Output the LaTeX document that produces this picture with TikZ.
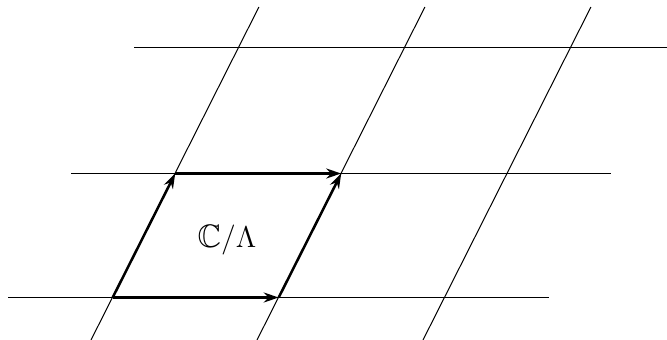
\documentclass[tikz,border=0pt]{standalone}
\usepackage{amssymb}
\usetikzlibrary{arrows.meta}
\begin{document}
\begin{tikzpicture}[x=0.4pt,y=-0.4pt,
  gridline/.style={line width=0.4pt},
  edge/.style={line width=1pt,-{Stealth[length=6pt,width=4pt,inset=2pt]}}]
\useasboundingbox (0,0) rectangle (667,340);
% lattice points
\coordinate (A) at (112.7,297.5);
\coordinate (B) at (278.7,297.5);
\coordinate (C) at (175.2,173.5);
\coordinate (D) at (341.2,173.5);
% horizontal line ends
\coordinate (h1a) at (8,297.5);   \coordinate (h1b) at (549,297.5);
\coordinate (h2a) at (71,173.5);  \coordinate (h2b) at (611,173.5);
\coordinate (h3a) at (134,47.5);  \coordinate (h3b) at (667,47.5);
% slanted line ends
\coordinate (s1a) at (91,340);  \coordinate (s1b) at (258.9,7);
\coordinate (s2a) at (257,340); \coordinate (s2b) at (424.9,7);
\coordinate (s3a) at (423,340); \coordinate (s3b) at (590.9,7);
\draw[gridline] (h1a) -- (h1b);
\draw[gridline] (h2a) -- (h2b);
\draw[gridline] (h3a) -- (h3b);
\draw[gridline] (s1a) -- (s1b);
\draw[gridline] (s2a) -- (s2b);
\draw[gridline] (s3a) -- (s3b);
\draw[edge] (A) -- (B);
\draw[edge] (A) -- (C);
\draw[edge] (C) -- (D);
\draw[edge] (B) -- (D);
\node[font=\fontsize{13}{15}\selectfont] (quot) at (227,240) {$\mathbb{C}/\Lambda$};
\end{tikzpicture}
\end{document}
